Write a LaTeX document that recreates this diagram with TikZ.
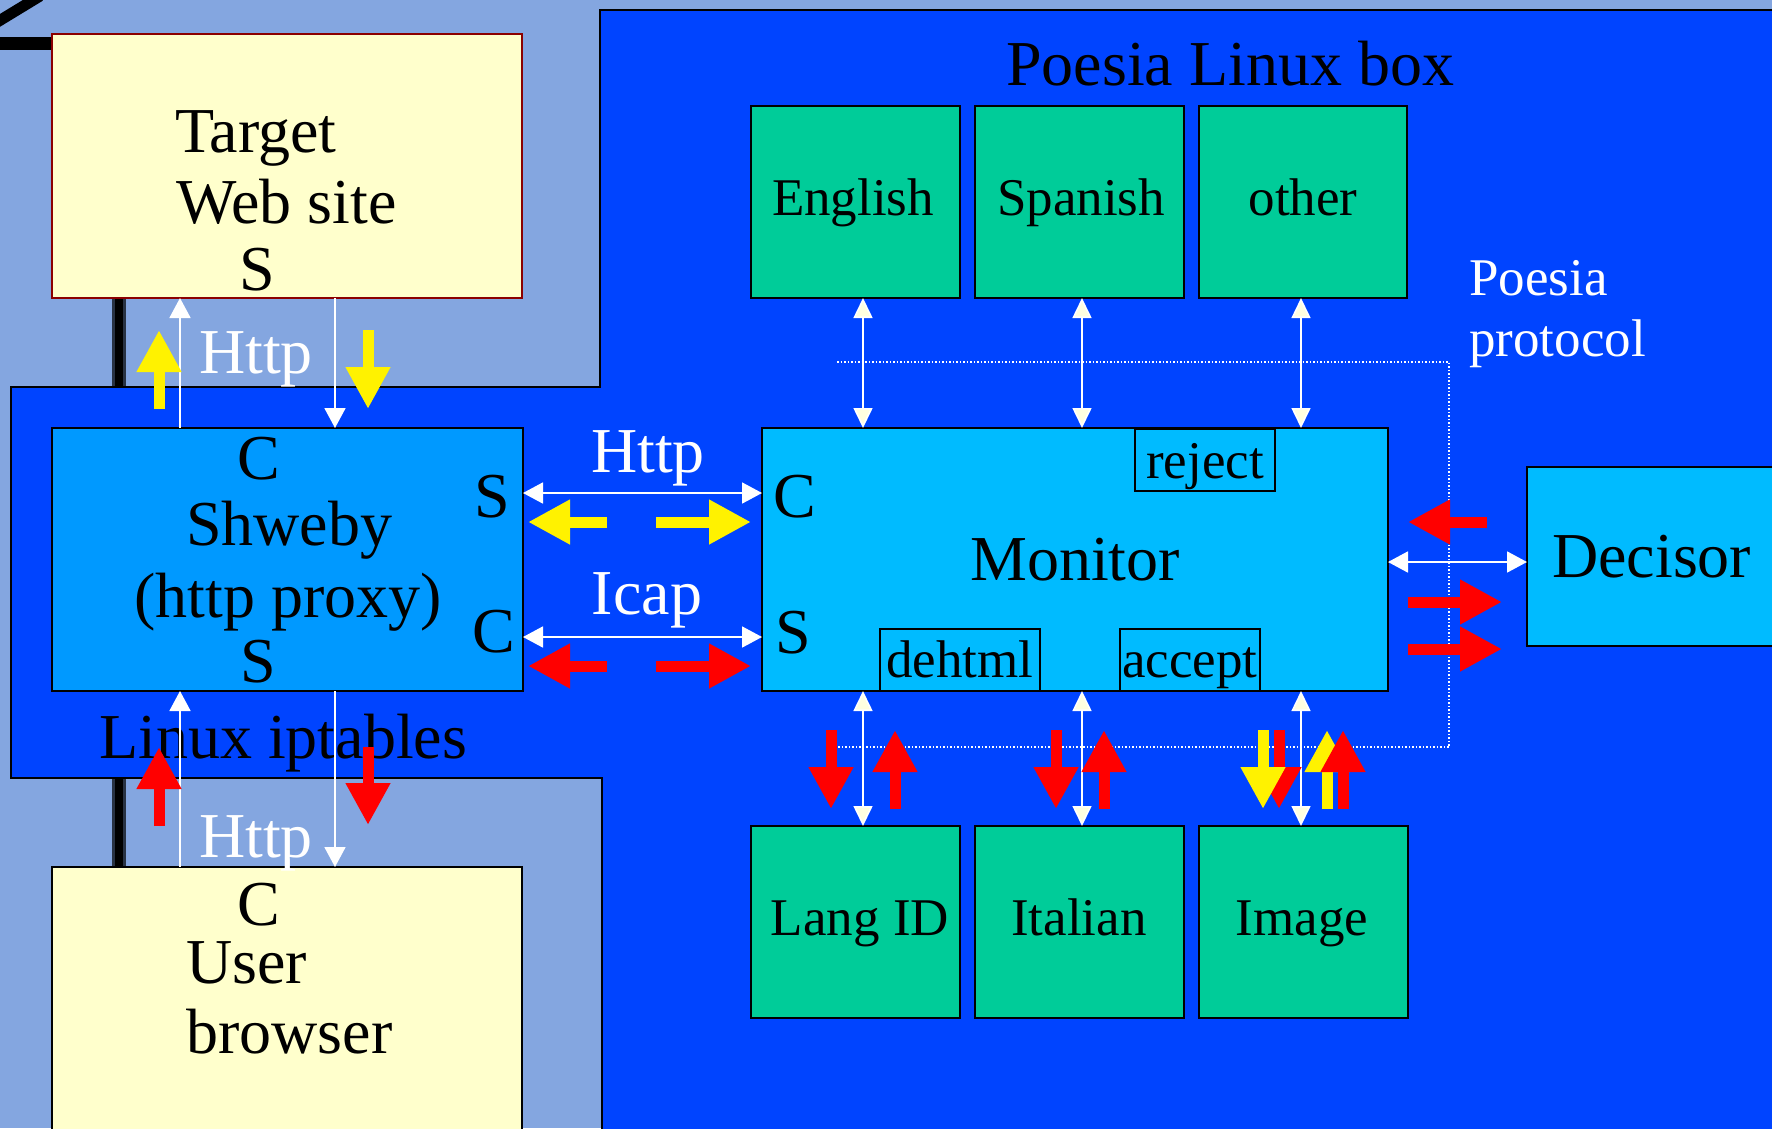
\documentclass[tikz,border=0pt]{standalone}
\usepackage{fontspec}
\setmainfont{Liberation Serif}
\usetikzlibrary{arrows.meta}
\definecolor{bgl}{HTML}{84A6E0}
\definecolor{dblue}{HTML}{0044FF}
\definecolor{shw}{HTML}{0099FF}
\definecolor{mon}{HTML}{00BBFF}
\definecolor{grn}{HTML}{00CC99}
\definecolor{cream}{HTML}{FFFFCC}
\definecolor{tipc}{HTML}{FFFFE0}
\definecolor{dred}{HTML}{8B0000}
\begin{document}
\begin{tikzpicture}[x=1pt,y=-1pt,
  nbox/.style={draw=black, line width=2pt, inner sep=0pt, outer sep=0pt, anchor=north west},
  bigt/.style={font=\fontsize{64}{70}\selectfont, inner sep=0pt, text=black},
  smallt/.style={font=\fontsize{53}{60}\selectfont, inner sep=0pt, text=black},
  wire/.style={draw=white, line width=1.8pt, -{Triangle[width=21pt 0 0,length=20pt 0 0]}},
  dwire/.style={draw=white, line width=1.8pt, {Triangle[width=21pt 0 0,length=20pt 0 0]}-{Triangle[width=21pt 0 0,length=20pt 0 0]}},
  cwire/.style={draw=white, line width=1.6pt, {Triangle[width=19pt 0 0,length=20pt 0 0,fill=tipc]}-{Triangle[width=19pt 0 0,length=20pt 0 0,fill=tipc]}},
  blk/.style={line width=11pt, -{Triangle[width=42pt 0 0,length=42pt 0 0]}},
  yblk/.style={blk, draw=yellow, fill=yellow},
  rblk/.style={blk, draw=red, fill=red}
]
\useasboundingbox (0,0) rectangle (1772,1128);
\clip (0,0) rectangle (1772,1128);
% background
\fill[bgl] (0,0) rectangle (1772,1128);
\draw[line width=14pt, draw=black!70!bgl] (119,40) -- (119,1140);
\draw[line width=8pt, draw=black] (119,40) -- (119,1140);
\draw[line width=13pt, draw=black] (-5,43) -- (60,43);
\draw[line width=11pt, draw=black] (-6,24) -- (40,-4);
% Poesia Linux box region
\filldraw[fill=dblue, draw=black, line width=2pt]
  (600,10) -- (1790,10) -- (1790,1140) -- (602,1140) -- (602,778)
  -- (11,778) -- (11,387) -- (600,387) -- cycle;

% boxes
\node[nbox, draw=dred, fill=cream, minimum width=470pt, minimum height=264pt] (tgt) at (52,34) {};
\node[nbox, fill=shw, minimum width=471pt, minimum height=263pt] (shw) at (52,428) {};
\node[nbox, fill=cream, minimum width=470pt, minimum height=300pt] (usr) at (52,867) {};
\node[nbox, fill=mon, minimum width=626pt, minimum height=263pt] (mon) at (762,428) {};
\node[nbox, fill=mon, minimum width=300pt, minimum height=179pt] (dec) at (1527,467) {};
\node[nbox, line width=1.5pt, minimum width=140pt, minimum height=62pt] (rej) at (1135,429) {};
\node[nbox, line width=1.5pt, minimum width=160pt, minimum height=62pt] (deh) at (880,629) {};
\node[nbox, line width=1.5pt, minimum width=140pt, minimum height=62pt] (acc) at (1120,629) {};
\node[nbox, line width=2.5pt, fill=grn, minimum width=209pt, minimum height=192pt] (eng) at (751,106) {};
\node[nbox, line width=2.5pt, fill=grn, minimum width=209pt, minimum height=192pt] (spa) at (975,106) {};
\node[nbox, line width=2.5pt, fill=grn, minimum width=208pt, minimum height=192pt] (oth) at (1199,106) {};
\node[nbox, line width=2.5pt, fill=grn, minimum width=209pt, minimum height=192pt] (lid) at (751,826) {};
\node[nbox, line width=2.5pt, fill=grn, minimum width=209pt, minimum height=192pt] (ita) at (975,826) {};
\node[nbox, line width=2.5pt, fill=grn, minimum width=209pt, minimum height=192pt] (img) at (1199,826) {};

% dotted protocol line
\coordinate (d1) at (837,362);
\coordinate (d2) at (1449,362);
\coordinate (d3) at (1449,747);
\coordinate (d4) at (837,747);
\draw[white, line width=1.5pt, dotted] (d1) -- (d2) -- (d3) -- (d4);

% texts
\node[bigt, anchor=base west] (tT1) at (175,152) {Target};
\node[bigt, anchor=base west] (tT2) at (176,223) {Web site};
\node[bigt, anchor=base west] (tT3) at (239,290) {S};
\node[bigt, anchor=base west, text=white] (http1) at (199,373) {Http};
\node[bigt, anchor=base west] (sC) at (237,479) {C};
\node[bigt, anchor=base west] (sN) at (186,545) {Shweby};
\node[bigt, anchor=base west] (sP) at (134,617) {(http proxy)};
\node[bigt, anchor=base west] (sS) at (240,682) {S};
\node[bigt, anchor=base west] (sRS) at (474,517) {S};
\node[bigt, anchor=base west] (sRC) at (472,652) {C};
\node[bigt, anchor=base west] (lnx) at (99,758) {Linux iptables};
\node[bigt, anchor=base west, text=white] (http2) at (199,857) {Http};
\node[bigt, anchor=base west] (uC) at (237,925) {C};
\node[bigt, anchor=base west] (uU) at (186,983) {User};
\node[bigt, anchor=base west] (uB) at (186,1053) {browser};
\node[bigt, anchor=base, text=white] (http3) at (648,472) {Http};
\node[bigt, anchor=base, text=white] (icap) at (647,614) {Icap};
\node[bigt, anchor=base west] (plb) at (1006,85) {Poesia Linux box};
\node[smallt, anchor=base west, text=white] (pp1) at (1469,295) {Poesia};
\node[smallt, anchor=base west, text=white] (pp2) at (1469,356) {protocol};
\node[bigt, anchor=base west] (mC) at (773,517) {C};
\node[bigt, anchor=base] (mN) at (1075,580) {Monitor};
\node[bigt, anchor=base west] (mS) at (775,653) {S};
\node[bigt, anchor=base west] (dN) at (1552,577) {Decisor};
\node[smallt, anchor=base] (tRej) at (1205,478) {reject};
\node[smallt, anchor=base] (tDeh) at (960,677) {dehtml};
\node[smallt, anchor=base] (tAcc) at (1190,677) {accept};
\node[smallt, anchor=base] (tEng) at (853,215) {English};
\node[smallt, anchor=base] (tSpa) at (1081,215) {Spanish};
\node[smallt, anchor=base] (tOth) at (1303,215) {other};
\node[smallt, anchor=base] (tLid) at (860,935) {Lang ID};
\node[smallt, anchor=base] (tIta) at (1079,935) {Italian};
\node[smallt, anchor=base] (tImg) at (1302,935) {Image};

% column/row coordinates
\coordinate (xa) at (180,0);
\coordinate (xb) at (335,0);
\coordinate (x1) at (863,0);
\coordinate (x2) at (1082,0);
\coordinate (x3) at (1301,0);
\coordinate (yh) at (0,493);
\coordinate (yi) at (0,637);
\coordinate (yd) at (0,562);

% thin white connectors
\draw[wire] (shw.north -| xa) -- (tgt.south -| xa);
\draw[wire] (tgt.south -| xb) -- (shw.north -| xb);
\draw[wire] (usr.north -| xa) -- (shw.south -| xa);
\draw[wire] (shw.south -| xb) -- (usr.north -| xb);
\draw[dwire] (shw.east |- yh) -- (mon.west |- yh);
\draw[dwire] (shw.east |- yi) -- (mon.west |- yi);
\draw[dwire] (mon.east |- yd) -- (dec.west |- yd);
\draw[cwire] (eng.south -| x1) -- (mon.north -| x1);
\draw[cwire] (spa.south -| x2) -- (mon.north -| x2);
\draw[cwire] (oth.south -| x3) -- (mon.north -| x3);
\draw[cwire] (mon.south -| x1) -- (lid.north -| x1);
\draw[cwire] (mon.south -| x2) -- (ita.north -| x2);
\draw[cwire] (mon.south -| x3) -- (img.north -| x3);

% block arrows (message flow)
\coordinate (ya1) at (159,409); \coordinate (ya2) at (159,330);
\coordinate (yb1) at (368,330); \coordinate (yb2) at (368,409);
\coordinate (ra1) at (159,826); \coordinate (ra2) at (159,747);
\coordinate (rb1) at (368,747); \coordinate (rb2) at (368,825);
\draw[yblk] (ya1) -- (ya2);
\draw[yblk] (yb1) -- (yb2);
\draw[rblk] (ra1) -- (ra2);
\draw[rblk] (rb1) -- (rb2);
\coordinate (yl1) at (607,522); \coordinate (yl2) at (528,522);
\coordinate (yr1) at (656,522); \coordinate (yr2) at (751,522);
\coordinate (rl1) at (607,666); \coordinate (rl2) at (528,666);
\coordinate (rr1) at (656,666); \coordinate (rr2) at (751,666);
\draw[yblk] (yl1) -- (yl2);
\draw[yblk] (yr1) -- (yr2);
\draw[rblk] (rl1) -- (rl2);
\draw[rblk] (rr1) -- (rr2);
\coordinate (dl1) at (1487,522); \coordinate (dl2) at (1408,522);
\coordinate (dr1) at (1408,602); \coordinate (dr2) at (1502,602);
\coordinate (ds1) at (1408,649); \coordinate (ds2) at (1502,649);
\draw[rblk] (dl1) -- (dl2);
\draw[rblk] (dr1) -- (dr2);
\draw[rblk] (ds1) -- (ds2);
\coordinate (b1a) at (831,730); \coordinate (b1b) at (831,809);
\coordinate (b2a) at (895,809); \coordinate (b2b) at (895,730);
\coordinate (b3a) at (1056,730); \coordinate (b3b) at (1056,809);
\coordinate (b4a) at (1104,809); \coordinate (b4b) at (1104,730);
\coordinate (b5a) at (1279,730); \coordinate (b5b) at (1279,809);
\coordinate (b6a) at (1263,730); \coordinate (b6b) at (1263,809);
\coordinate (b7a) at (1327,809); \coordinate (b7b) at (1327,730);
\coordinate (b8a) at (1343,809); \coordinate (b8b) at (1343,730);
\draw[rblk] (b1a) -- (b1b);
\draw[rblk] (b2a) -- (b2b);
\draw[rblk] (b3a) -- (b3b);
\draw[rblk] (b4a) -- (b4b);
\draw[rblk] (b5a) -- (b5b);
\draw[yblk] (b6a) -- (b6b);
\draw[yblk] (b7a) -- (b7b);
\draw[rblk] (b8a) -- (b8b);
\end{tikzpicture}
\end{document}
